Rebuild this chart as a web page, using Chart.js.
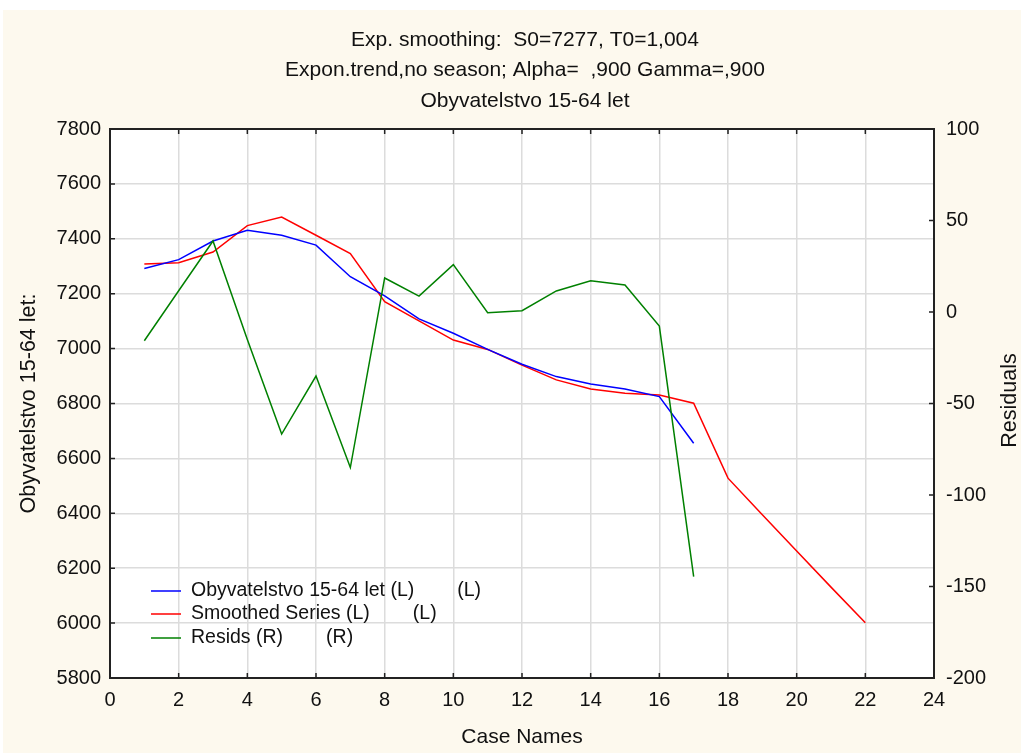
<!DOCTYPE html>
<html>
<head>
<meta charset="utf-8">
<script src="https://cdn.jsdelivr.net/npm/chart.js@4.4.1/dist/chart.umd.min.js"></script>
<style>
  html, body { margin: 0; padding: 0; background: #ffffff; }
  #wrap { position: absolute; left: 3px; top: 10px; width: 1018px; height: 743px; background: #fdf9ee; }
  canvas { display: block; }
</style>
</head>
<body>
<div id="wrap"><canvas id="chart" width="1018" height="743"></canvas></div>
<script>
// case numbers on the x axis
const observedCases = [1, 2, 3, 4, 5, 6, 7, 8, 9, 10, 11, 12, 13, 14, 15, 16, 17];
const smoothedCases = [1, 2, 3, 4, 5, 6, 7, 8, 9, 10, 11, 12, 13, 14, 15, 16, 17, 18, 19, 20, 21, 22];

// Obyvatelstvo 15-64 let (left axis)
const observedValues = [7292, 7324, 7392, 7431, 7413, 7377, 7262, 7192, 7108, 7056, 6997, 6943, 6898, 6871, 6853, 6825, 6655];
// Smoothed series incl. forecast (left axis)
const smoothedValues = [7308, 7313, 7352, 7448, 7479, 7413, 7346, 7171, 7101, 7031, 6997, 6940, 6886, 6853, 6837, 6831, 6801, 6528, 6395, 6263, 6131, 6001];
// Residuals (right axis)
const residValues = [-15.7, 11.6, 38.8, -15, -66.7, -35, -85, 18.6, 8.7, 25.9, -0.4, 0.7, 11.5, 17.1, 14.8, -7.7, -144.6];

const titleLines = [
  'Exp. smoothing:  S0=7277, T0=1,004',
  'Expon.trend,no season; Alpha=  ,900 Gamma=,900',
  'Obyvatelstvo 15-64 let'
];
const seriesLabels = ['Obyvatelstvo 15-64 let (L)', 'Smoothed Series (L)', 'Resids (R)'];
const legendSuffix = ['(L)', '(L)', '(R)'];
const seriesColors = ['rgb(0, 0, 255)', 'rgb(255, 0, 0)', 'rgb(0, 128, 0)'];
const rightAxisTitle = 'Residuals';

const FONT = "'Liberation Sans', Arial, sans-serif";

function toPoints(xs, ys) {
  return xs.map((x, i) => ({ x: x, y: ys[i] }));
}

function plainNumber(value) {
  return String(value);
}

const framePlugin = {
  id: 'frame',
  beforeDraw(chart) {
    const { ctx, chartArea: a } = chart;
    ctx.save();
    ctx.fillStyle = '#ffffff';
    ctx.fillRect(a.left, a.top, a.right - a.left, a.bottom - a.top);
    ctx.restore();
  },
  afterDraw(chart) {
    const { ctx, chartArea: a, scales } = chart;
    ctx.save();
    ctx.strokeStyle = '#222';
    ctx.lineWidth = 1.5;
    const len = 5;
    ctx.beginPath();
    scales.x.ticks.forEach((t) => {
      const px = scales.x.getPixelForValue(t.value);
      ctx.moveTo(px, a.bottom); ctx.lineTo(px, a.bottom - len);
      ctx.moveTo(px, a.top); ctx.lineTo(px, a.top + len);
    });
    scales.y.ticks.forEach((t) => {
      const py = scales.y.getPixelForValue(t.value);
      ctx.moveTo(a.left, py); ctx.lineTo(a.left + len, py);
    });
    scales.y1.ticks.forEach((t) => {
      const py = scales.y1.getPixelForValue(t.value);
      ctx.moveTo(a.right, py); ctx.lineTo(a.right - len, py);
    });
    ctx.stroke();
    ctx.lineWidth = 2;
    ctx.strokeRect(a.left, a.top, a.right - a.left, a.bottom - a.top);

    ctx.fillStyle = '#111';
    ctx.textAlign = 'center';
    ctx.textBaseline = 'middle';

    // three title lines centred over the plot
    const cx = (a.left + a.right) / 2 + 3;
    ctx.font = '21px ' + FONT;
    titleLines.forEach((line, i) => {
      ctx.fillText(line, cx, 30 + i * 30.5);
    });

    // right axis title, reading bottom to top like the left one
    ctx.font = '21.5px ' + FONT;
    ctx.save();
    ctx.translate(chart.width - 11, (a.top + a.bottom) / 2 - 3);
    ctx.rotate(-Math.PI / 2);
    ctx.fillText(rightAxisTitle, 0, 0);
    ctx.restore();

    // legend inside the plot, lower left
    const rows = [-87, -64, -40];
    ctx.font = '19.5px ' + FONT;
    ctx.textAlign = 'left';
    chart.data.datasets.forEach((ds, i) => {
      const y = a.bottom + rows[i];
      ctx.strokeStyle = ds.borderColor;
      ctx.lineWidth = 1.5;
      ctx.beginPath();
      ctx.moveTo(a.left + 41, y); ctx.lineTo(a.left + 71, y);
      ctx.stroke();
      const tx = a.left + 81;
      ctx.fillText(ds.label, tx, y);
      const w = ctx.measureText(ds.label).width;
      ctx.fillText(legendSuffix[i], tx + w + 43, y);
    });
    ctx.restore();
  }
};

new Chart(document.getElementById('chart'), {
  type: 'line',
  data: {
    datasets: [
      {
        label: seriesLabels[0],
        data: toPoints(observedCases, observedValues),
        borderColor: seriesColors[0],
        yAxisID: 'y',
        order: 1
      },
      {
        label: seriesLabels[1],
        data: toPoints(smoothedCases, smoothedValues),
        borderColor: seriesColors[1],
        yAxisID: 'y',
        order: 2
      },
      {
        label: seriesLabels[2],
        data: toPoints(observedCases, residValues),
        borderColor: seriesColors[2],
        yAxisID: 'y1',
        order: 0
      }
    ]
  },
  options: {
    responsive: false,
    animation: false,
    devicePixelRatio: 1,
    layout: { padding: { top: 119, left: 0, right: 0, bottom: 0 } },
    elements: {
      line: { borderWidth: 1.5, tension: 0, fill: false },
      point: { radius: 0, hoverRadius: 0 }
    },
    plugins: {
      legend: { display: false },
      tooltip: { enabled: false },
      title: { display: false }
    },
    scales: {
      x: {
        type: 'linear',
        position: 'bottom',
        min: 0,
        max: 24,
        ticks: { stepSize: 2, color: '#111', padding: 10, font: { family: FONT, size: 20 }, maxRotation: 0, callback: plainNumber },
        grid: { color: '#dcdcdc', lineWidth: 1.5, drawTicks: false },
        border: { display: false },
        title: { display: true, text: 'Case Names', color: '#111', font: { family: FONT, size: 21 }, padding: { top: 0, bottom: 3 } },
        afterFit(scale) { scale.height = 75; }
      },
      y: {
        type: 'linear',
        position: 'left',
        min: 5800,
        max: 7800,
        ticks: { stepSize: 200, color: '#111', padding: 9, font: { family: FONT, size: 20 }, callback: plainNumber },
        grid: { color: '#dcdcdc', lineWidth: 1.5, drawTicks: false },
        border: { display: false },
        title: { display: true, text: 'Obyvatelstvo 15-64 let:', color: '#111', font: { family: FONT, size: 21.5 }, padding: { top: 13, bottom: 0 } },
        afterFit(scale) { scale.width = 107; }
      },
      y1: {
        type: 'linear',
        position: 'right',
        min: -200,
        max: 100,
        ticks: { stepSize: 50, color: '#111', padding: 12, font: { family: FONT, size: 20 }, callback: plainNumber },
        grid: { display: false, drawTicks: false },
        border: { display: false },
        title: { display: false },
        afterFit(scale) { scale.width = 87; }
      }
    }
  },
  plugins: [framePlugin]
});
</script>
</body>
</html>
